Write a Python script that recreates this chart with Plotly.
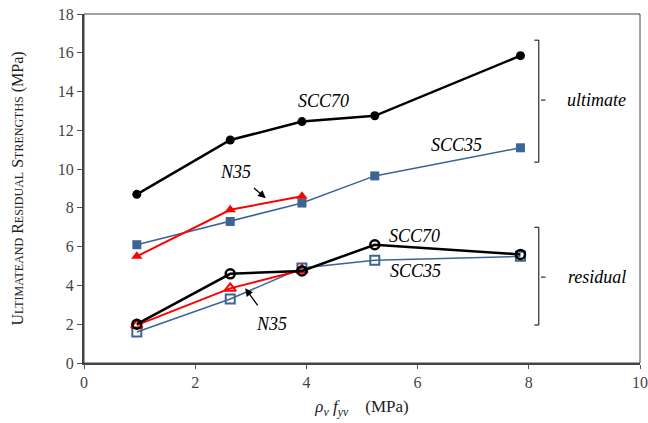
import plotly.graph_objects as go

# ---- data ----
x_all = [0.95, 2.63, 3.92, 5.23, 7.85]
x_n35 = [0.95, 2.63, 3.92]
scc70_ult = [8.7, 11.5, 12.45, 12.75, 15.85]
scc35_ult = [6.1, 7.3, 8.25, 9.65, 11.1]
n35_ult = [5.5, 7.9, 8.6]
scc70_res = [2.0, 4.6, 4.75, 6.1, 5.6]
scc35_res = [1.6, 3.3, 4.9, 5.3, 5.5]
n35_res = [1.95, 3.85, 4.8]
x_ticks = [0, 2, 4, 6, 8, 10]
y_ticks = [0, 2, 4, 6, 8, 10, 12, 14, 16, 18]

BLACK = "#000000"
BLUE = "#3A6595"
RED = "#FF0000"
FONT = "Liberation Serif"

fig = go.Figure()

def add(x, y, color, width, symbol, size, mline=None):
    fig.add_trace(go.Scatter(
        x=x, y=y, mode="lines+markers",
        line=dict(color=color, width=width),
        marker=dict(symbol=symbol, size=size, color=color,
                    line=dict(color=color, width=mline if mline else 0)),
        showlegend=False, hoverinfo="skip"))

add(x_all, scc35_ult, BLUE, 1.5, "square", 9)
add(x_n35, n35_ult, RED, 2, "triangle-up", 10)
add(x_all, scc70_ult, BLACK, 2.5, "circle", 9)
add(x_all, scc35_res, BLUE, 1.5, "square-open", 9, 2)
add(x_n35, n35_res, RED, 2, "triangle-up-open", 10, 2)
add(x_all, scc70_res, BLACK, 2.5, "circle-open", 9, 2.5)

# brackets
bx = 8.18
for top, bot, mid in [(16.65, 10.36, 13.56), (7.0, 1.96, 4.43)]:
    fig.add_shape(type="line", x0=bx, x1=bx, y0=bot, y1=top,
                  line=dict(color=BLACK, width=1))
    fig.add_shape(type="line", x0=bx - 0.08, x1=bx, y0=top, y1=top,
                  line=dict(color=BLACK, width=1))
    fig.add_shape(type="line", x0=bx - 0.08, x1=bx, y0=bot, y1=bot,
                  line=dict(color=BLACK, width=1))
    fig.add_shape(type="line", x0=bx + 0.04, x1=bx + 0.12, y0=mid, y1=mid,
                  line=dict(color=BLACK, width=1))

afont = dict(family=FONT, size=18, color=BLACK)
def label(x, y, text, **kw):
    fig.add_annotation(x=x, y=y, text="<i>" + text + "</i>", showarrow=False,
                       font=afont, **kw)

label(4.3, 13.5, "SCC70")
label(6.7, 11.25, "SCC35")
label(5.95, 6.55, "SCC70")
label(5.97, 4.75, "SCC35")
label(9.22, 13.56, "ultimate")
label(9.22, 4.43, "residual")

# N35 labels with arrows
fig.add_annotation(x=3.27, y=8.5, ax=2.72, ay=9.85, axref="x", ayref="y",
                   text="<i>N35</i>", showarrow=True, arrowhead=2,
                   arrowsize=1.2, arrowwidth=1.3, arrowcolor=BLACK,
                   font=afont, standoff=0, startstandoff=7)
fig.add_annotation(x=2.9, y=3.85, ax=3.37, ay=2.0, axref="x", ayref="y",
                   text="<i>N35</i>", showarrow=True, arrowhead=2,
                   arrowsize=1.2, arrowwidth=1.3, arrowcolor=BLACK,
                   font=afont, standoff=0, startstandoff=9)

sm = "font-size:12px"
ytitle = (f"U<span style='{sm}'>LTIMATEAND</span> R<span style='{sm}'>ESIDUAL</span> "
          f"S<span style='{sm}'>TRENGTHS</span> (MPa)")
xtitle = "<i>ρ</i><sub><i>v</i></sub> <i>f</i><sub><i>yv</i></sub>\u00a0\u00a0\u00a0\u00a0(MPa)"

fig.update_layout(
    width=648, height=423,
    margin=dict(l=84, r=8, t=14, b=60, autoexpand=False),
    plot_bgcolor="white", paper_bgcolor="white",
    font=dict(family=FONT, size=16, color="#333333"),
    xaxis=dict(range=[0, 10], tickvals=x_ticks, ticks="outside", ticklen=4,
               tickcolor="#555555", showgrid=False, zeroline=False,
               showline=True, linecolor="#444444", linewidth=2, automargin=False,
               tickfont=dict(family=FONT, size=16, color="#444444"),
               title=dict(text=xtitle, font=dict(family=FONT, size=17, color="#222222"),
                          standoff=10)),
    yaxis=dict(range=[0, 18], tickvals=y_ticks, ticks="outside", ticklen=5,
               tickcolor="#555555", showgrid=False, zeroline=False,
               showline=True, linecolor="#444444", linewidth=2, automargin=False,
               tickfont=dict(family=FONT, size=16, color="#444444"),
               title=dict(text=ytitle, font=dict(family=FONT, size=16, color="#222222"),
                          standoff=30)),
)
# thin top/right frame
fig.add_shape(type="rect", xref="paper", yref="paper", x0=0, x1=1, y0=0, y1=1,
              line=dict(color="#444444", width=1), layer="below")

fig.write_html("out.html")
